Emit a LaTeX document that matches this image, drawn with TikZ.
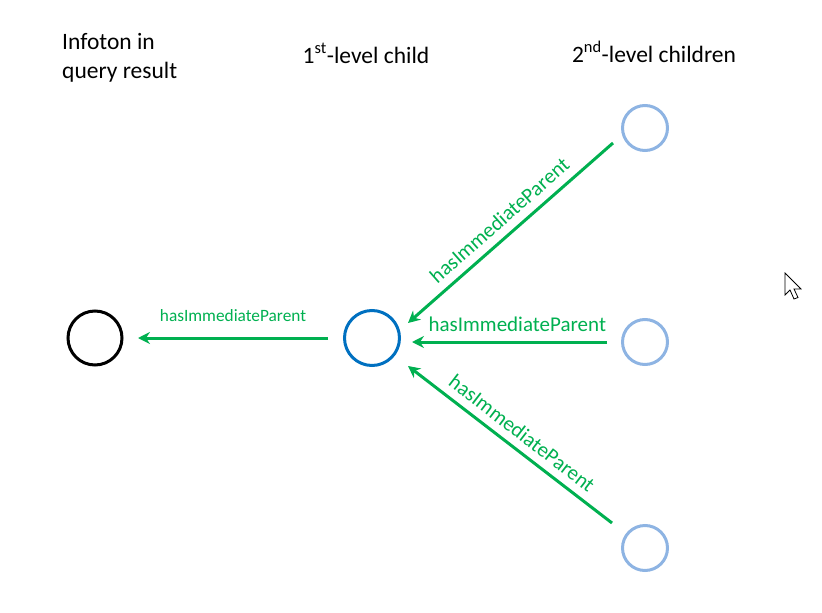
\documentclass[tikz,border=0pt]{standalone}
\usepackage{fontspec}
\setmainfont{Carlito}
\usetikzlibrary{arrows.meta}
\definecolor{grn}{HTML}{00B050}
\definecolor{dblue}{HTML}{0070C0}
\definecolor{lblue}{HTML}{8EB4E3}
\begin{document}
\begin{tikzpicture}[x=1pt,y=-1pt,
  hdr/.style={font=\fontsize{23.5}{29}\selectfont, inner sep=0pt},
  lbl/.style={font=\fontsize{17.3}{20}\selectfont, text=grn, inner sep=0pt},
  lblbig/.style={font=\fontsize{21}{24}\selectfont, text=grn, inner sep=0pt},
  root/.style={circle, draw=black, line width=3pt, minimum size=54pt, inner sep=0pt},
  first/.style={circle, draw=dblue, line width=3pt, minimum size=55pt, inner sep=0pt},
  second/.style={circle, draw=lblue, line width=3pt, minimum size=45pt, inner sep=0pt},
  rel/.style={draw=grn, line width=3pt, -{Stealth[length=12pt,width=12pt,inset=4pt]}}]
\useasboundingbox (0,0) rectangle (822,613);
% headers
\node[hdr, anchor=base west] (h0a) at (62,49) {Infoton in};
\node[hdr, anchor=base west] (h0b) at (62,78) {query result};
\node[hdr, anchor=base] (h1) at (366,63) {1\textsuperscript{st}-level child};
\node[hdr, anchor=base] (h2) at (654,62) {2\textsuperscript{nd}-level children};
% nodes
\node[root] (r) at (95,338) {};
\node[first] (c) at (372,338) {};
\node[second] (s1) at (645,128) {};
\node[second] (s2) at (645,342) {};
\node[second] (s3) at (645,548) {};
% anchors for connector ends
\coordinate (a1s) at (328,338);
\coordinate (a1e) at (138,338);
\coordinate (t1s) at (613,143);
\coordinate (t1e) at (408,323);
\coordinate (m1s) at (607,342);
\coordinate (m1e) at (412,342);
\coordinate (b1s) at (612,523);
\coordinate (b1e) at (408,366);
% connectors
\draw[rel] (a1s) -- (a1e) node[lbl, midway, above=15pt] (l0) {hasImmediateParent};
\draw[rel] (t1s) -- (t1e) node[lblbig, midway, sloped, above=8pt] (l1) {hasImmediateParent};
\draw[rel] (m1s) -- (m1e) node[lblbig, pos=0.46, above=9pt] (l2) {hasImmediateParent};
\draw[rel] (b1s) -- (b1e) node[lblbig, pos=0.49, sloped, above=7.5pt] (l3) {hasImmediateParent};
% mouse cursor
\draw[black, fill=white, line width=0.8pt, line join=miter]
  (785,273) -- (785,295) -- (790,290) -- (794,299) -- (798,297.5) -- (794,289) -- (801,289) -- cycle;
\end{tikzpicture}
\end{document}
